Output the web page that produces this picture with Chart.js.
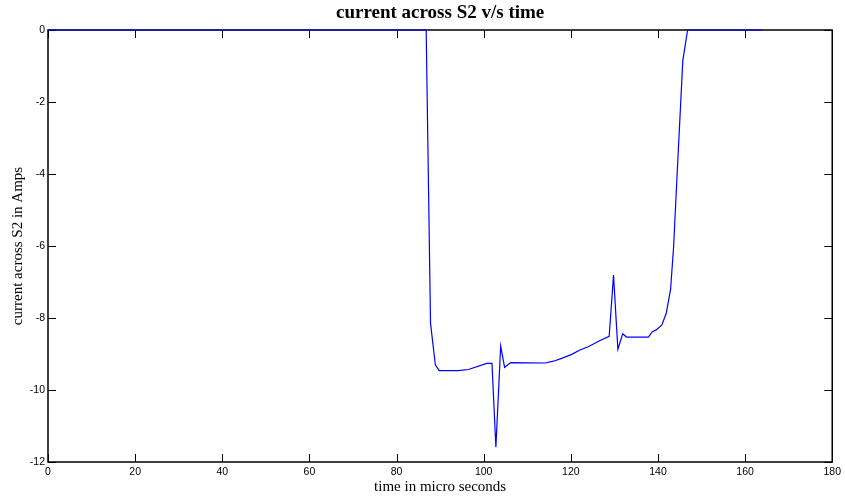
<!DOCTYPE html>
<html>
<head>
<meta charset="utf-8">
<script src="https://cdn.jsdelivr.net/npm/chart.js@4.4.1/dist/chart.umd.min.js"></script>
<style>
  html, body { margin: 0; padding: 0; background: #fff; }
  #wrap { width: 845px; height: 499px; }
</style>
</head>
<body>
<div id="wrap"><canvas id="c"></canvas></div>
<script>
// Switch S2 current trace (time in µs, current in A)
const timeUs = [0, 86.8, 87.8, 88.9, 89.8, 94.2, 96.5, 100.7, 101.9, 102.8, 103.9, 104.8,
  106.2, 114.1, 116.0, 117.9, 120.2, 122.1, 124.0, 126.6, 128.8, 129.8, 130.8, 131.9,
  132.8, 137.8, 138.7, 139.6, 140.9, 141.9, 142.9, 143.6, 144.4, 145.7, 146.8, 163.8];
const currentA = [0, 0, -8.15, -9.3, -9.46, -9.46, -9.43, -9.26, -9.26, -11.59, -8.78, -9.37,
  -9.24, -9.25, -9.2, -9.12, -9.01, -8.89, -8.8, -8.63, -8.51, -6.81, -8.87, -8.44,
  -8.53, -8.53, -8.38, -8.33, -8.19, -7.87, -7.2, -6.0, -4.0, -0.85, 0, 0];
const xTicks = [0, 20, 40, 60, 80, 100, 120, 140, 160, 180];
const yTicks = [-12, -10, -8, -6, -4, -2, 0];

const points = timeUs.map((t, i) => ({ x: t, y: currentA[i] }));

// Boxed axes with inward tick marks on all four sides
const boxAxes = {
  id: 'boxAxes',
  beforeDatasetsDraw(chart) {
    const { ctx, chartArea: a, scales } = chart;
    const len = 8;
    ctx.save();
    ctx.strokeStyle = '#000';
    ctx.lineWidth = 1;
    ctx.beginPath();
    scales.x.ticks.forEach(t => {
      const px = Math.round(scales.x.getPixelForValue(t.value)) + 0.5;
      ctx.moveTo(px, a.bottom); ctx.lineTo(px, a.bottom - len);
      ctx.moveTo(px, a.top); ctx.lineTo(px, a.top + len);
    });
    scales.y.ticks.forEach(t => {
      const py = Math.round(scales.y.getPixelForValue(t.value)) + 0.5;
      ctx.moveTo(a.left, py); ctx.lineTo(a.left + len, py);
      ctx.moveTo(a.right, py); ctx.lineTo(a.right - len, py);
    });
    ctx.stroke();
    ctx.lineWidth = 1.5;
    ctx.strokeRect(a.left, a.top, a.right - a.left, a.bottom - a.top);
    ctx.restore();
  }
};

new Chart(document.getElementById('c'), {
  type: 'scatter',
  data: {
    datasets: [{
      data: points,
      showLine: true,
      borderColor: '#0000ff',
      backgroundColor: '#0000ff',
      borderWidth: 1.2,
      pointRadius: 0,
      tension: 0,
      clip: false
    }]
  },
  options: {
    responsive: true,
    maintainAspectRatio: false,
    animation: false,
    layout: { padding: { left: 0, right: 10, top: 0, bottom: 0 } },
    plugins: {
      legend: { display: false },
      tooltip: { enabled: false },
      title: {
        display: true,
        text: 'current across S2 v/s time',
        fullSize: false,
        color: '#000',
        font: { family: 'Liberation Serif', size: 19, weight: 'bold' },
        padding: { top: 1.5, bottom: 5.7 }
      }
    },
    scales: {
      x: {
        type: 'linear',
        min: 0, max: 180,
        afterBuildTicks(s) { s.ticks = xTicks.map(v => ({ value: v })); },
        afterFit(s) { s.height = 37; },
        grid: { display: false, drawTicks: false },
        border: { display: false },
        ticks: {
          color: '#000', padding: 4, maxRotation: 0, autoSkip: false,
          font: { family: 'Liberation Sans', size: 10.5 }
        },
        title: {
          display: true, text: 'time in micro seconds', color: '#000',
          font: { family: 'Liberation Serif', size: 15 },
          padding: { top: 0, bottom: 3 }
        }
      },
      y: {
        type: 'linear',
        min: -12, max: 0,
        afterBuildTicks(s) { s.ticks = yTicks.map(v => ({ value: v })); },
        afterFit(s) { s.width = 48; },
        grid: { display: false, drawTicks: false },
        border: { display: false },
        ticks: {
          color: '#000', padding: 3, autoSkip: false,
          font: { family: 'Liberation Sans', size: 10.5 }
        },
        title: {
          display: true, text: 'current across S2 in Amps', color: '#000',
          font: { family: 'Liberation Serif', size: 15 },
          padding: { top: 9, bottom: 0 }
        }
      }
    }
  },
  plugins: [boxAxes]
});
</script>
</body>
</html>
